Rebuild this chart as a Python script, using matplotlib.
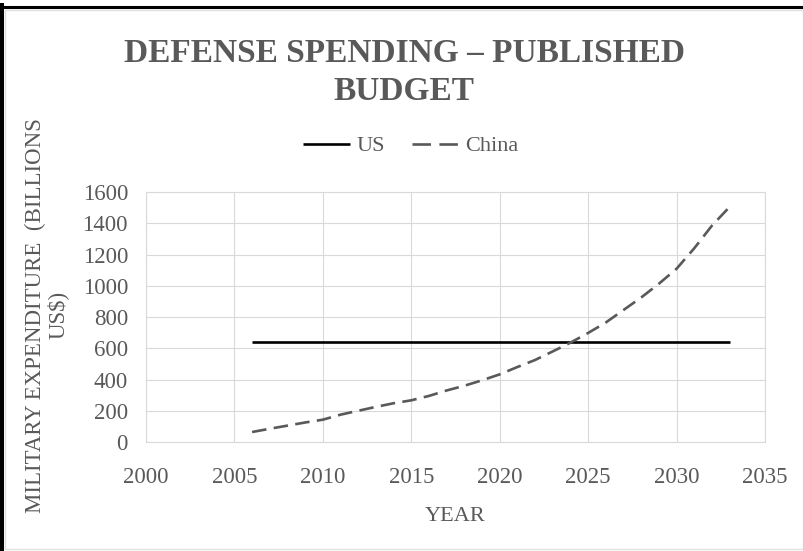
import matplotlib
matplotlib.use("Agg")
import matplotlib.pyplot as plt
from matplotlib.lines import Line2D
from matplotlib.patches import Rectangle

plt.rcParams['font.family'] = ['Liberation Serif', 'DejaVu Serif']

GRAY = "#595959"

years = list(range(2006, 2034))
us = [640] * len(years)
china = [64, 85, 105, 125, 143, 175, 200, 225, 248, 267,
         295, 330, 360, 395, 433, 480, 525, 580, 636, 698,
         765, 845, 925, 1013, 1109, 1240, 1385, 1505]

xticks = [2000, 2005, 2010, 2015, 2020, 2025, 2030, 2035]
yticks = [0, 200, 400, 600, 800, 1000, 1200, 1400, 1600]

fig = plt.figure(figsize=(8.04, 5.51), dpi=100)
ax = fig.add_axes([0.1816, 0.1978, 0.7699, 0.4537])

ax.plot(years, us, color="black", lw=1.9, solid_capstyle="butt")
ax.plot(years, china, color=GRAY, lw=1.9, dashes=(5.5, 2.8))

ax.set_xlim(2000, 2035)
ax.set_ylim(0, 1600)
ax.set_xticks(xticks)
ax.set_yticks(yticks)
ax.grid(True, color="#d9d9d9", lw=0.8)
ax.set_axisbelow(True)
for s in ax.spines.values():
    s.set_color("#d9d9d9")
    s.set_linewidth(0.8)
ax.tick_params(length=0, labelsize=16.5, labelcolor=GRAY)
ax.tick_params(axis="x", pad=18)
ax.tick_params(axis="y", pad=13)

ax.set_xlabel("YEAR", fontsize=16, color=GRAY, labelpad=14)

fig.text(0.058, 0.428, "MILITARY EXPENDITURE  (BILLIONS\nUS$)", rotation=90,
         ha="center", va="center", multialignment="center",
         fontsize=16.5, color=GRAY, linespacing=1.05)

fig.text(0.5025, 0.868, "DEFENSE SPENDING – PUBLISHED\nBUDGET", ha="center", va="center",
         fontsize=24, fontweight="bold", color=GRAY, linespacing=1.3)

handles = [Line2D([], [], color="black", lw=1.9, solid_capstyle="butt"),
           Line2D([], [], color=GRAY, lw=1.9, dashes=(7.0, 3.2))]
fig.legend(handles, ["US", "China"], loc="center", bbox_to_anchor=(0.511, 0.735), ncol=2,
           frameon=False, fontsize=16, handlelength=2.1, handletextpad=0.3,
           columnspacing=1.2, labelcolor=GRAY)

# frame around the picture
fig.add_artist(Rectangle((5 / 804, 2 / 551), 798 / 804, 539 / 551, transform=fig.transFigure,
                         fill=False, edgecolor="#e0e0e0", lw=1))
fig.add_artist(Line2D([2 / 804, 2 / 804], [0, 1 - 5 / 551], transform=fig.transFigure,
                      color="black", lw=2.9))
fig.add_artist(Line2D([0, 1], [1 - 6.5 / 551, 1 - 6.5 / 551], transform=fig.transFigure,
                      color="black", lw=2.2))

fig.savefig("out.png", dpi=100, facecolor="white")
